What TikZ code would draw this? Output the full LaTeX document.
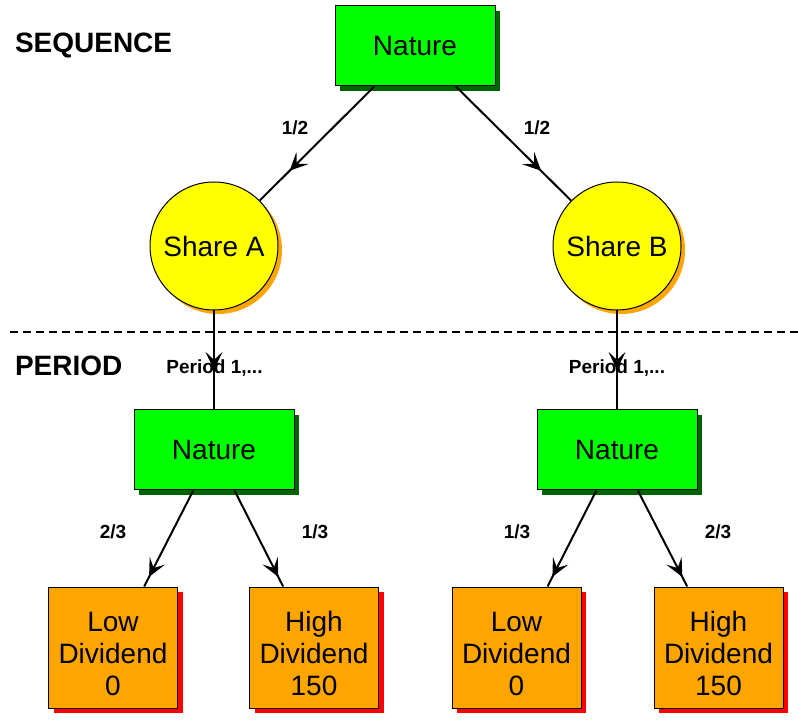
\documentclass[tikz,border=0pt]{standalone}
\usepackage{fontspec}
\setmainfont{Liberation Sans}
\usetikzlibrary{arrows.meta,decorations.markings,shadows}
\definecolor{natgreen}{RGB}{0,255,0}
\definecolor{natshadow}{RGB}{0,100,0}
\definecolor{shareyellow}{RGB}{255,255,0}
\definecolor{divorange}{RGB}{255,165,0}
\definecolor{divred}{RGB}{255,0,0}
\tikzset{
	naturebox/.style={draw, line width=0.5pt, fill=natgreen, minimum width=80pt, minimum height=40pt,
		drop shadow={shadow xshift=2.5pt, shadow yshift=-2.5pt, fill=natshadow, opacity=1}},
	sharenode/.style={circle, draw, line width=0.5pt, fill=shareyellow, minimum size=64pt, inner sep=0pt,
		drop shadow={shadow xshift=2pt, shadow yshift=-2pt, fill=divorange, opacity=1}},
	divbox/.style={draw, line width=0.5pt, fill=divorange, minimum width=64.5pt, minimum height=60.5pt,
		align=center, text height=48pt, text depth=0pt,
		drop shadow={shadow xshift=2.5pt, shadow yshift=-2.5pt, fill=divred, opacity=1}},
	heading/.style={inner sep=0pt, anchor=base west, font=\fontsize{14}{16}\selectfont\bfseries},
	problabel/.style={font=\fontsize{9.5}{11}\selectfont\bfseries},
	midarrow/.style={postaction={decorate}, decoration={markings,
		mark=at position #1 with {\arrow{Stealth[length=9pt, width=8.5pt, inset=4pt]}}}}
}

\begin{document}
\begin{tikzpicture}[x=0.5pt, y=-0.5pt, node distance=100pt, line width=1pt,
		every node/.style={font=\fontsize{14}{16}\selectfont}]
		\useasboundingbox (0,0) rectangle (798,721);

		\node (seq) [heading] at (14,53) {SEQUENCE};
		\node (per) [heading] at (14,376) {PERIOD};
		\draw [dashed, dash pattern=on 4pt off 2.5pt] (10,332) -- (798,332);

		\node (nat) [naturebox] at (415,46) {Nature};
		\node (shareA) [sharenode, below of=nat, xshift=-100.5pt] {Share A};
		\node (shareB) [sharenode, below of=nat, xshift=101pt] {Share B};

		\node (natA) [naturebox, below of=shareA, yshift=-2pt] {Nature};
		\node (lowA) [divbox, below of=natA, xshift=-50.5pt, yshift=1.25pt] {Low\\Dividend\\0};
		\node (highA) [divbox, below of=natA, xshift=50pt, yshift=1.25pt] {High\\Dividend\\150};

		\node (natB) [naturebox, below of=shareB, yshift=-2pt] {Nature};
		\node (lowB) [divbox, below of=natB, xshift=-50.25pt, yshift=1.25pt] {Low\\Dividend\\0};
		\node (highB) [divbox, below of=natB, xshift=50.75pt, yshift=1.25pt] {High\\Dividend\\150};

		\draw [midarrow=0.74] (nat) -- (shareA);
		\draw [midarrow=0.74] (nat) -- (shareB);
		\draw [midarrow=0.6] (shareA) -- (natA);
		\draw [midarrow=0.6] (shareB) -- (natB);
		\draw [midarrow=0.9] (natA) -- (lowA);
		\draw [midarrow=0.9] (natA) -- (highA);
		\draw [midarrow=0.9] (natB) -- (lowB);
		\draw [midarrow=0.9] (natB) -- (highB);

		\node (pA) [problabel] at (295,128) {1/2};
		\node (pB) [problabel] at (537,128) {1/2};
		\node (perA) [problabel] at (214.5,368) {Period 1,...};
		\node (perB) [problabel] at (617,368) {Period 1,...};
		\node (pAlow) [problabel] at (113,532) {2/3};
		\node (pAhigh) [problabel] at (315,532) {1/3};
		\node (pBlow) [problabel] at (517,532) {1/3};
		\node (pBhigh) [problabel] at (718,532) {2/3};
	\end{tikzpicture}
\end{document}
